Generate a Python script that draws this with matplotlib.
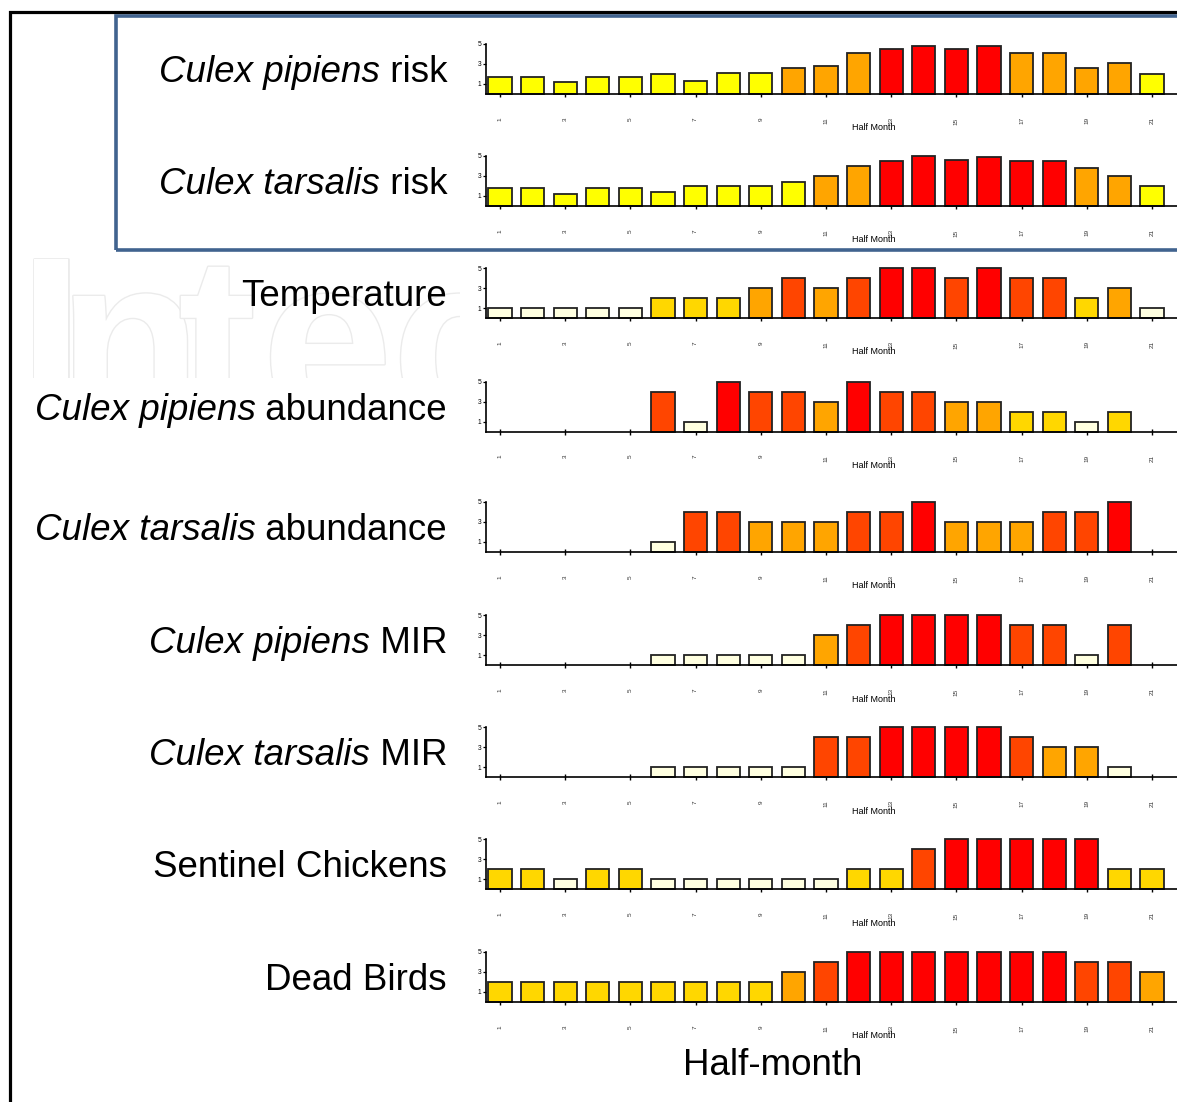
import numpy as np
import matplotlib
matplotlib.use("Agg")
import matplotlib.pyplot as plt
from matplotlib import patheffects as pe
from matplotlib.lines import Line2D
from matplotlib.patches import Rectangle
import matplotlib.transforms as mtransforms

# ---------------- data ----------------
half_month = list(range(1, 22))
tick_positions = list(range(1, 22, 2))
tick_labels = [str(t) for t in tick_positions]
y_ticks = [1, 3, 5]
small_xlabel = "Half Month"
bottom_label = "Half-month"

label_italic = ["Culex pipiens", "Culex tarsalis", "", "Culex pipiens", "Culex tarsalis",
                "Culex pipiens", "Culex tarsalis", "", ""]
label_plain = [" risk", " risk", "Temperature", " abundance", " abundance",
               " MIR", " MIR", "Sentinel Chickens", "Dead Birds"]

pipiens_risk = [1.70, 1.70, 1.24, 1.70, 1.70, 2.04, 1.28, 2.15, 2.15, 2.60, 2.77,
                4.13, 4.48, 4.76, 4.48, 4.76, 4.13, 4.13, 2.60, 3.09, 2.04]
tarsalis_risk = [1.80, 1.80, 1.20, 1.80, 1.80, 1.38, 1.98, 1.98, 1.98, 2.44, 3.04,
                 3.96, 4.46, 5.00, 4.60, 4.92, 4.46, 4.46, 3.82, 3.04, 1.98]
temperature = [1, 1, 1, 1, 1, 2, 2, 2, 3, 4, 3, 4, 5, 5, 4, 5, 4, 4, 2, 3, 1]
pipiens_abundance = [0, 0, 0, 0, 0, 4, 1, 5, 4, 4, 3, 5, 4, 4, 3, 3, 2, 2, 1, 2, 0]
tarsalis_abundance = [0, 0, 0, 0, 0, 1, 4, 4, 3, 3, 3, 4, 4, 5, 3, 3, 3, 4, 4, 5, 0]
pipiens_mir = [0, 0, 0, 0, 0, 1, 1, 1, 1, 1, 3, 4, 5, 5, 5, 5, 4, 4, 1, 4, 0]
tarsalis_mir = [0, 0, 0, 0, 0, 1, 1, 1, 1, 1, 4, 4, 5, 5, 5, 5, 4, 3, 3, 1, 0]
sentinel_chickens = [2, 2, 1, 2, 2, 1, 1, 1, 1, 1, 1, 2, 2, 4, 5, 5, 5, 5, 5, 2, 2]
dead_birds = [2, 2, 2, 2, 2, 2, 2, 2, 2, 3, 4, 5, 5, 5, 5, 5, 5, 5, 4, 4, 3]

series = [pipiens_risk, tarsalis_risk, temperature, pipiens_abundance,
          tarsalis_abundance, pipiens_mir, tarsalis_mir, sentinel_chickens, dead_birds]
is_risk = [True, True, False, False, False, False, False, False, False]

# ---------------- styles ----------------
level_colors = {1: "#FFFFE0", 2: "#FFD700", 3: "#FFA500", 4: "#FF4500", 5: "#FF0000"}


def risk_color(v):
    if v < 2.5:
        return "#FFFF00"
    if v < 4.3:
        return "#FFA500"
    return "#FF0000"


W, H = 1177, 1102
fig = plt.figure(figsize=(W / 100, H / 100), dpi=100)
fig.patch.set_facecolor("white")
plt.rcParams["font.family"] = ["Liberation Sans", "DejaVu Sans"]

baselines = [94, 206, 318, 431.5, 552, 665, 777, 889, 1002]
ax_left_px, ax_right_px = 485.5, 1262.5
unit_y_px = 10.0
ylim_top = 5.3
xlim = (0.555, 24.39)

# faint watermark
wax = fig.add_axes([25 / W, 1 - 378 / H, (460 - 25) / W, (378 - 248) / H])
wax.set_zorder(-5)
wax.axis("off")
wax.set_xlim(25, 460)
wax.set_ylim(378, 248)
for ch, xp in zip("Intec", [18, 58, 178, 262, 392]):
    wax.text(xp, 420, ch, fontsize=169, fontweight="bold", family="Liberation Sans",
             color="white", ha="left", va="baseline", clip_on=True,
             path_effects=[pe.withStroke(linewidth=2.0, foreground="#ebebeb")])

renderer = fig.canvas.get_renderer()

for i, vals in enumerate(series):
    base = baselines[i]
    ax = fig.add_axes([ax_left_px / W, 1 - base / H, (ax_right_px - ax_left_px) / W,
                       ylim_top * unit_y_px / H])
    ax.set_facecolor("none")
    xs = [x for x, v in zip(half_month, vals) if v > 0]
    vs = [v for v in vals if v > 0]
    if is_risk[i]:
        cols = [risk_color(v) for v in vs]
    else:
        cols = [level_colors[int(v)] for v in vs]
    ax.bar(xs, vs, width=0.71, color=cols, edgecolor="#222222", linewidth=1.3,
           zorder=3, clip_on=False)
    ax.set_xlim(*xlim)
    ax.set_ylim(0, ylim_top)
    for s in ["top", "right"]:
        ax.spines[s].set_visible(False)
    ax.spines["left"].set_bounds(0, 5)
    ax.spines["left"].set_linewidth(1.2)
    ax.spines["bottom"].set_linewidth(1.2)
    ax.spines["bottom"].set_zorder(4)
    ax.set_yticks(y_ticks)
    ax.set_yticklabels([str(t) for t in y_ticks], fontsize=4.8)
    ax.tick_params(axis="y", direction="out", length=2.2, width=0.9, pad=0.6)
    ax.set_xticks(tick_positions)
    ax.set_xticklabels(tick_labels, rotation=90, fontsize=4.6, va="top", color="#333333")
    ax.tick_params(axis="x", direction="inout", length=4.5, width=1.0, pad=14.5)
    ax.set_xlabel(small_xlabel, fontsize=6.5)
    ax.xaxis.set_label_coords(
        0.5, 1 - (base + 34) / H,
        transform=mtransforms.blended_transform_factory(ax.transAxes, fig.transFigure))
    ax.xaxis.label.set_va("center")

    # left label
    ty = 1 - (base - 12) / H
    tplain = fig.text(447 / W, ty, label_plain[i], fontsize=26.5, ha="right",
                      va="baseline", family="Liberation Sans")
    if label_italic[i]:
        bb = tplain.get_window_extent(renderer=renderer)
        fig.text(bb.x0 / W, ty, label_italic[i], fontsize=26.5, ha="right",
                 va="baseline", style="italic", family="Liberation Sans")

fig.text(773 / W, 1 - 1075 / H, bottom_label, fontsize=26.5, ha="center",
         va="baseline", family="Liberation Sans")

# frame lines
fig.add_artist(Line2D([10 / W, 10 / W, 1.2], [-0.1, 1 - 11.5 / H, 1 - 11.5 / H],
                      transform=fig.transFigure, color="black", lw=2.3,
                      solid_joinstyle="miter"))
fig.add_artist(Rectangle((115.5 / W, 1 - 249.5 / H), (1400 - 115.5) / W,
                         (249.5 - 15.5) / H, transform=fig.transFigure, fill=False,
                         ec="#41638f", lw=2.6))

fig.savefig("out.png", dpi=100)
